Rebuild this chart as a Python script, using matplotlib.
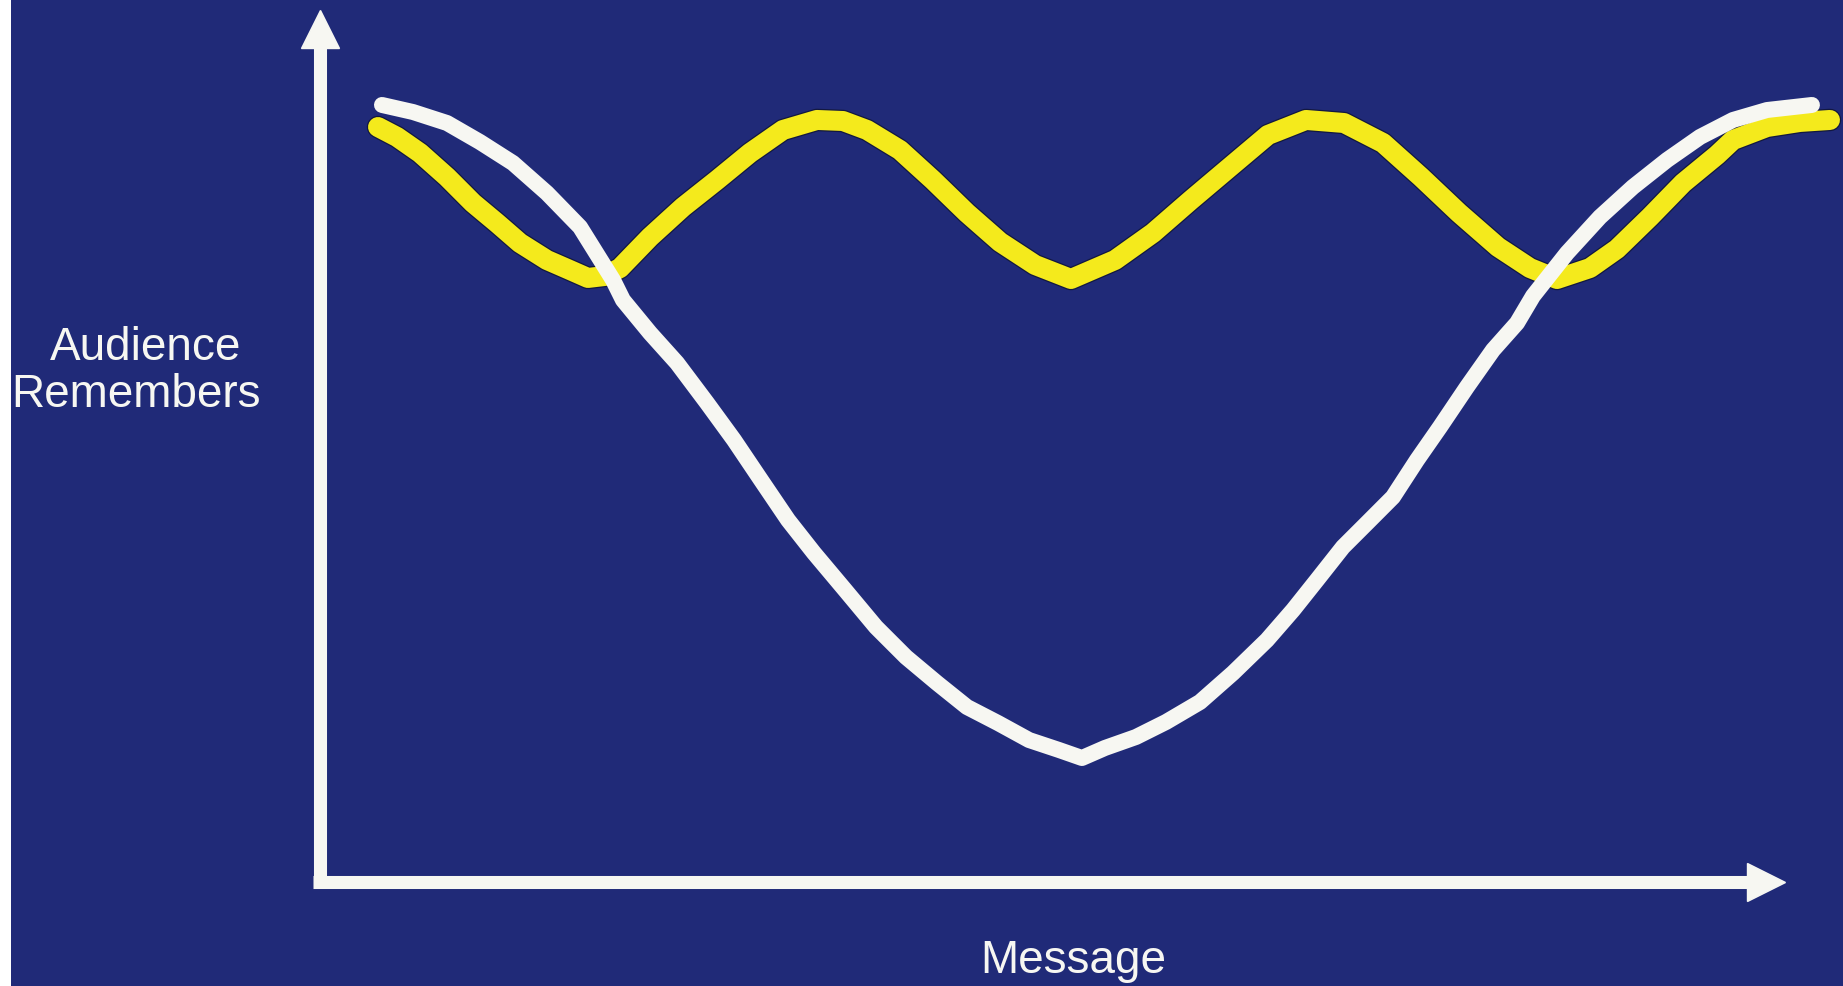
import matplotlib.pyplot as plt
import matplotlib.patches as patches
import matplotlib.patheffects as pe

# Data (chart units: message position 0-100, audience remembers 0-100)
white_x = [4.23, 6.35, 8.67, 10.92, 13.17, 15.49, 17.75, 20.00, 20.68, 22.53, 24.37, 26.42, 28.26,
           30.10, 31.95, 33.72, 35.84, 37.95, 40.00, 42.12, 44.16, 46.28, 48.40, 50.44, 52.01,
           53.58, 55.70, 57.75, 60.07, 62.32, 64.64, 66.42, 68.05, 69.83, 71.47, 73.24, 74.88,
           76.45, 78.29, 80.07, 81.71, 82.80, 85.12, 87.37, 89.62, 91.95, 94.20, 96.45, 98.77,
           101.84]
white_y = [89.11, 88.30, 87.04, 84.86, 82.45, 79.01, 75.11, 69.04, 66.74, 62.96, 59.52, 54.93, 50.69,
           46.10, 41.51, 37.73, 33.49, 29.24, 25.80, 22.82, 20.07, 18.23, 16.28, 15.14, 14.22,
           15.37, 16.63, 18.35, 20.64, 23.97, 27.75, 31.19, 34.63, 38.42, 41.17, 44.15, 48.39,
           52.18, 56.77, 61.01, 64.11, 67.20, 72.13, 76.26, 79.70, 82.80, 85.44, 87.39, 88.53,
           89.11]

yellow_x = [3.96, 5.26, 6.83, 8.67, 10.44, 12.08, 13.65, 15.49, 17.06, 18.29, 19.45, 20.48, 22.53,
            24.78, 27.10, 29.35, 31.60, 33.92, 35.70, 37.34, 39.59, 41.84, 44.16, 46.42, 48.81,
            51.26, 54.27, 56.86, 59.45, 62.12, 64.71, 67.30, 69.90, 72.56, 75.15, 77.75, 80.41,
            82.59, 84.44, 86.69, 88.53, 90.78, 93.04, 95.36, 96.45, 98.77, 101.02, 103.07]
yellow_y = [86.58, 85.44, 83.60, 80.85, 77.87, 75.57, 73.28, 71.33, 70.18, 69.27, 69.50, 70.41, 73.97,
            77.41, 80.50, 83.60, 86.24, 87.39, 87.27, 86.24, 83.94, 80.50, 76.72, 73.39, 70.76,
            69.15, 71.33, 74.43, 78.21, 82.00, 85.67, 87.39, 87.04, 84.75, 80.85, 76.72, 72.82,
            70.41, 69.15, 70.41, 72.59, 76.26, 80.16, 83.37, 85.09, 86.58, 87.16, 87.39]

y_label = ["Audience", "Remembers"]
x_label = "Message"

bg = '#202a78'
fg = '#f7f7f2'
yellow = '#f4ea1c'
font = ['Liberation Sans', 'DejaVu Sans']

fig = plt.figure(figsize=(18.43, 9.86), dpi=100, facecolor=bg)
W, H = 1843, 986

# axes: origin at the corner of the two arrows
ax = fig.add_axes([320 / W, (H - 882) / H, 1465 / W, 872 / H])
ax.set_facecolor('none')
ax.set_xlim(0, 100)
ax.set_ylim(0, 100)
ax.axis('off')

# hand drawn axis arrows
ax.plot([-0.005, 0.974], [0, 0], transform=ax.transAxes, color=fg, lw=9.4,
        solid_capstyle='butt', clip_on=False)
ax.plot([0, 0], [-0.005, 0.957], transform=ax.transAxes, color=fg, lw=9.4,
        solid_capstyle='butt', clip_on=False)
ax.plot([0.987], [0], marker='>', markersize=28, color=fg, transform=ax.transAxes, clip_on=False)
ax.plot([0], [0.978], marker='^', markersize=28, color=fg, transform=ax.transAxes, clip_on=False)

# curves
ax.plot(yellow_x, yellow_y, color=yellow, lw=14.4, solid_capstyle='round',
        solid_joinstyle='round', clip_on=False, zorder=3,
        path_effects=[pe.Stroke(linewidth=16.2, foreground='#121840'), pe.Normal()])
ax.plot(white_x, white_y, color=fg, lw=11.5, solid_capstyle='round',
        solid_joinstyle='round', clip_on=False, zorder=4)

# labels
fig.text(146 / W, 1 - 360 / H, y_label[0], color=fg, fontsize=33, family=font,
         ha='center', va='baseline')
fig.text(136 / W, 1 - 407 / H, y_label[1], color=fg, fontsize=33, family=font,
         ha='center', va='baseline')
fig.text(1073 / W, 1 - 973 / H, x_label, color=fg, fontsize=33, family=font,
         ha='center', va='baseline')

# white strip on the left edge of the scan
fig.add_artist(patches.Rectangle((0, 0), 11 / W, 1, transform=fig.transFigure,
                                 facecolor='white', edgecolor='none'))

plt.savefig('out.png', dpi=100, facecolor=bg)
